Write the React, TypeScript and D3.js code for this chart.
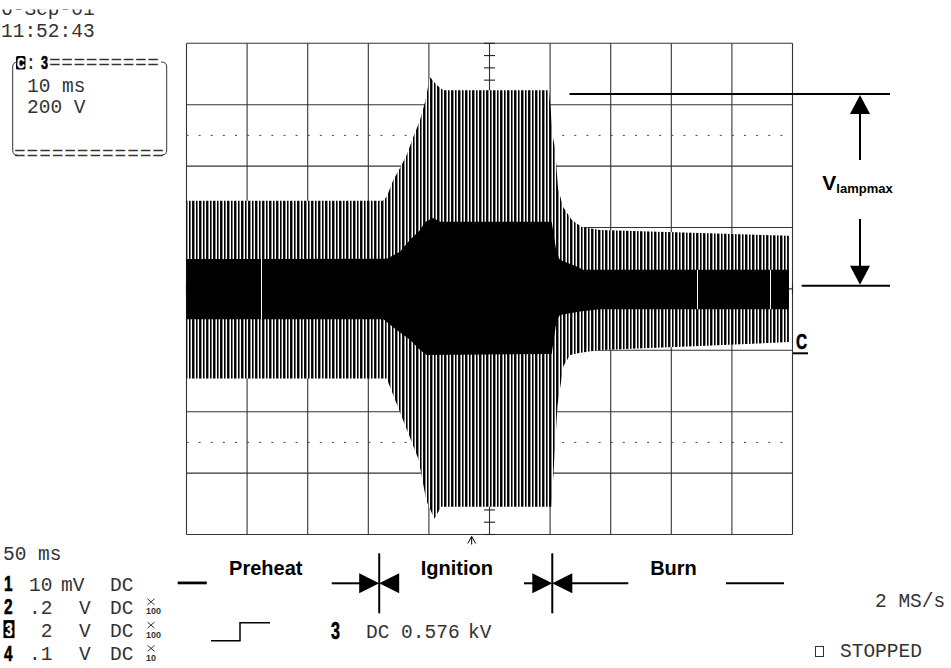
import React from 'react';
import * as d3 from 'd3';

const W = 951;
const H = 668;

// Scope settings: 50 ms/div (10 div), 200 V/div (8 div)
const timeDomain: [number, number] = [0, 500];
const timeGrid = [0, 50, 100, 150, 200, 250, 300, 350, 400, 450, 500];
const voltDomain: [number, number] = [-800, 800];
const voltGrid = [-800, -600, -400, -200, 0, 200, 400, 600, 800];
const dottedLevels = [500, -500];
const minorTimeStep = 10;
const minorVoltStep = 40;

// Envelope of the lamp voltage (time ms, volts)
const upperSpikeEnv: [number, number][] = [
  [0, 287], [162, 287], [165.2, 300], [170.6, 355], [176.2, 394], [181.7, 436],
  [187.1, 495], [192.7, 550], [196.8, 609], [200.9, 690], [206.4, 664], [211.9, 647],
  [299.1, 647], [302.4, 492], [304.1, 459], [306.5, 329], [310.7, 267], [317.8, 225],
  [326.1, 202], [341.2, 192], [423.7, 182], [497, 173],
];
const lowerSpikeEnv: [number, number][] = [
  [0, -292], [165.2, -292], [178.6, -426], [191.4, -555], [197.9, -690], [204.5, -749],
  [210, -710], [301.2, -710], [302.8, -599], [306.1, -380], [311, -251], [316.5, -215],
  [325, -208], [341.2, -199], [423.7, -186], [497, -173],
];
const bandUpperEnv: [number, number][] = [
  [0, 97], [165.2, 98], [176.2, 121], [184.4, 160], [192.7, 192], [196.8, 218],
  [203.4, 231], [209.2, 219], [301.3, 219], [305.4, 117], [308.2, 94], [322, 73],
  [327.1, 62], [497, 62],
];
const bandLowerEnv: [number, number][] = [
  [0, -99], [162.4, -99], [173.4, -134], [184.4, -166], [192.7, -199], [198.2, -215],
  [301.3, -212], [305.4, -101], [308.2, -85], [324.7, -74], [341.2, -66], [497, -66],
];
const glitchTimes = [61.2, 421, 481.4];
const triggerTime = 235.3;

// Phase annotation
const phaseBounds = [159, 301.8];
const phaseLabels = ['Preheat', 'Ignition', 'Burn'];
const phaseCenters = [65.4, 223, 401.8];
const vlampLevels = [635, 10];

// Scope readouts
const dateLines = ['6-Sep-01', '11:52:43'];
const zoomInfo = ['10 ms', '200 V'];
const timebaseLabel = '50 ms';
const chanIds = ['1', '2', '3', '4'];
const chanValues = ['10', '.2', ' 2', '.1'];
const chanUnits = ['mV', 'V', 'V', 'V'];
const chanCoupling = ['DC', 'DC', 'DC', 'DC'];
const chanProbe = ['', '100', '100', '10'];
const triggerReadout = ['3', 'DC 0.576', 'kV'];
const sampleRate = '2 MS/s';
const statusLabel = 'STOPPED';

const MONO = "'Liberation Mono', 'DejaVu Sans Mono', monospace";
const SANS = "'Liberation Sans', Arial, sans-serif";

function Narrow(props: { x: number; y: number; size: number; fill?: string; anchor?: string; children: React.ReactNode }) {
  const { x, y, size, fill = '#000', anchor = 'start', children } = props;
  return (
    <text transform={`translate(${x},${y}) scale(0.7,1)`} fontFamily={SANS} fontWeight="bold"
      fontSize={size} fill={fill} stroke={fill} strokeWidth={0.6} textAnchor={anchor}>{children}</text>
  );
}

export default function App() {
  const x = d3.scaleLinear().domain(timeDomain).range([186.5, 792.5]);
  const y = d3.scaleLinear().domain(voltDomain).range([534.5, 43.3]);
  const line = d3.line<[number, number]>().x(d => x(d[0])).y(d => y(d[1]));

  const spikePath = line([...upperSpikeEnv, ...lowerSpikeEnv.slice().reverse()]) + 'Z';
  const bandPath = line([...bandUpperEnv, ...bandLowerEnv.slice().reverse()]) + 'Z';
  const interp = (env: [number, number][], t: number) =>
    d3.scaleLinear().domain(env.map(d => d[0])).range(env.map(d => d[1]))(t);

  const x0 = x(timeDomain[0]);
  const x1 = x(timeDomain[1]);
  const y0 = y(voltDomain[1]);
  const y1 = y(voltDomain[0]);
  const xc = x((timeDomain[0] + timeDomain[1]) / 2);
  const yc = y(0);

  const minorT = d3.range(timeDomain[0], timeDomain[1] + 0.01, minorTimeStep);
  const minorV = d3.range(voltDomain[0], voltDomain[1] + 0.01, minorVoltStep);

  const annY = 583.3;
  const bx1 = x(phaseBounds[0]);
  const bx2 = x(phaseBounds[1]);
  const rowBase = [590.5, 613.8, 637.1, 660.4];

  const arrowR = (tip: number) => `M${tip - 20},${annY - 10} L${tip},${annY} L${tip - 20},${annY + 10} Z`;
  const arrowL = (tip: number) => `M${tip + 20},${annY - 10} L${tip},${annY} L${tip + 20},${annY + 10} Z`;

  const vTop = y(vlampLevels[0]);
  const vBot = y(vlampLevels[1]);
  const ax = 860;

  return (
    <svg width={W} height={H} style={{ position: 'absolute', left: 0, top: 0, background: '#fff' }}>
      <defs>
        <pattern id="spikes" patternUnits="userSpaceOnUse" x={0} y={0} width={7} height={10}>
          <rect x={0} y={0} width={7} height={10} fill="#fff" />
          <rect x={0} y={0} width={1} height={10} fill="#000" />
          <rect x={1} y={0} width={1} height={10} fill="#6e6e6e" />
          <rect x={3} y={0} width={1} height={10} fill="#111" />
          <rect x={4} y={0} width={1} height={10} fill="#000" />
          <rect x={5} y={0} width={1} height={10} fill="#8c8c8c" />
        </pattern>
        <clipPath id="topclip">
          <rect x={0} y={9.5} width={W} height={H} />
        </clipPath>
      </defs>

      {/* grid */}
      <g stroke="#333" strokeWidth={1.1} fill="none">
        {timeGrid.map(t => (
          <line key={'vt' + t} x1={x(t)} x2={x(t)} y1={y0} y2={y1} />
        ))}
        {voltGrid.map(v => (
          <line key={'hv' + v} x1={x0} x2={x1} y1={y(v)} y2={y(v)} />
        ))}
      </g>
      <g stroke="#444" strokeWidth={1} strokeDasharray="2 10.12">
        {dottedLevels.map(v => (
          <line key={'d' + v} x1={x0} x2={x1} y1={y(v)} y2={y(v)} />
        ))}
      </g>
      <g stroke="#222" strokeWidth={1.1}>
        {minorV.map(v => (
          <line key={'mv' + v} x1={xc - 5.5} x2={xc + 5.5} y1={y(v)} y2={y(v)} />
        ))}
        {minorT.map(t => (
          <line key={'mt' + t} x1={x(t)} x2={x(t)} y1={yc - 5.5} y2={yc + 5.5} />
        ))}
      </g>

      {/* waveform */}
      <path d={spikePath} fill="url(#spikes)" />
      <path d={bandPath} fill="#000" />
      <g stroke="#fff" strokeWidth={1}>
        {glitchTimes.map(t => (
          <line key={'g' + t} x1={Math.round(x(t)) + 0.5} x2={Math.round(x(t)) + 0.5}
            y1={y(interp(bandUpperEnv, t))} y2={y(interp(bandLowerEnv, t))} />
        ))}
      </g>

      {/* trigger marker */}
      <path d={`M${x(triggerTime) - 4},${y1 + 9} L${x(triggerTime)},${y1 + 2} L${x(triggerTime) + 4},${y1 + 9} M${x(triggerTime)},${y1 + 2} L${x(triggerTime)},${y1 + 10}`}
        stroke="#000" strokeWidth={1} fill="none" />

      {/* C ground marker */}
      <Narrow x={796} y={348.5} size={22}>C</Narrow>
      <line x1={793} x2={808} y1={353.3} y2={353.3} stroke="#000" strokeWidth={2} />

      {/* V lampmax annotation */}
      <g stroke="#000" strokeWidth={2}>
        <line x1={x(316)} x2={890} y1={vTop} y2={vTop} />
        <line x1={801.7} x2={890} y1={vBot} y2={vBot} />
        <line x1={ax} x2={ax} y1={vTop + 18} y2={160} />
        <line x1={ax} x2={ax} y1={219} y2={vBot - 18} />
      </g>
      <path d={`M${ax},${vTop + 1} L${ax - 10},${vTop + 20} L${ax + 10},${vTop + 20} Z`} fill="#000" />
      <path d={`M${ax},${vBot - 1} L${ax - 10},${vBot - 20} L${ax + 10},${vBot - 20} Z`} fill="#000" />
      <text x={857.5} y={190} textAnchor="middle" fontFamily={SANS} fontWeight="bold" fill="#000">
        <tspan fontSize={21}>V</tspan>
        <tspan fontSize={13} dy={3}>lampmax</tspan>
      </text>

      {/* phase annotation */}
      <g stroke="#000" strokeWidth={2}>
        <line x1={177.7} x2={206.7} y1={annY} y2={annY} />
        <line x1={331.7} x2={bx1 - 18} y1={annY} y2={annY} />
        <line x1={524} x2={bx2 - 18} y1={annY} y2={annY} />
        <line x1={bx2 + 18} x2={628.3} y1={annY} y2={annY} />
        <line x1={726} x2={784} y1={annY} y2={annY} />
        <line x1={bx1} x2={bx1} y1={553.3} y2={613.3} />
        <line x1={bx2} x2={bx2} y1={553.3} y2={613.3} />
      </g>
      <g fill="#000">
        <path d={arrowR(bx1)} />
        <path d={arrowL(bx1)} />
        <path d={arrowR(bx2)} />
        <path d={arrowL(bx2)} />
      </g>
      {phaseLabels.map((p, i) => (
        <text key={p} x={x(phaseCenters[i])} y={575} textAnchor="middle" fontFamily={SANS}
          fontWeight="bold" fontSize={20} fill="#000">{p}</text>
      ))}

      {/* top-left readouts */}
      <g fontFamily={MONO} fontSize={19.5} fill="#333">
        <text x={1} y={15} clipPath="url(#topclip)">{dateLines[0]}</text>
        <text x={1} y={37.3}>{dateLines[1]}</text>
        <text x={27} y={91.7}>{zoomInfo[0]}</text>
        <text x={27} y={113}>{zoomInfo[1]}</text>
        <text x={49} y={69} textLength={110} lengthAdjust="spacing">=========</text>
        <text x={14} y={160} textLength={150} lengthAdjust="spacing">============</text>
        <text x={25} y={69}>:</text>
      </g>
      <rect x={16} y={56} width={9.5} height={13.5} rx={1.5} fill="#000" />
      <Narrow x={20.8} y={68.3} size={15} fill="#fff" anchor="middle">C</Narrow>
      <Narrow x={41} y={69.4} size={18}>3</Narrow>
      <path d="M18,62 Q12.7,62 12.7,67 L12.7,150 Q12.7,155 17,155" stroke="#333" strokeWidth={1} fill="none" />
      <path d="M161,62 Q166.7,62 166.7,67 L166.7,150 Q166.7,155 162,155" stroke="#333" strokeWidth={1} fill="none" />

      {/* bottom-left channel readouts */}
      <text x={3} y={560} fontFamily={MONO} fontSize={19.5} fill="#333">{timebaseLabel}</text>
      {chanIds.map((c, i) => (
        <g key={'ch' + c}>
          {i === 2 ? (
            <g>
              <rect x={3.5} y={rowBase[i] - 17} width={11} height={18} fill="#000" />
              <Narrow x={9} y={rowBase[i] - 1.5} size={19} fill="#fff" anchor="middle">{c}</Narrow>
            </g>
          ) : (
            <Narrow x={4} y={rowBase[i] + 0.5} size={22}>{c}</Narrow>
          )}
          <text x={29} y={rowBase[i]} fontFamily={MONO} fontSize={19.5} fill="#333" style={{ whiteSpace: 'pre' }}>{chanValues[i]}</text>
          <text x={i === 0 ? 61 : 79} y={rowBase[i]} fontFamily={MONO} fontSize={19.5} fill="#333">{chanUnits[i]}</text>
          <text x={110} y={rowBase[i]} fontFamily={MONO} fontSize={19.5} fill="#333">{chanCoupling[i]}</text>
          {chanProbe[i] && (
            <g>
              <path d={`M147.5,${rowBase[i] - 15} L154.5,${rowBase[i] - 9} M154.5,${rowBase[i] - 15} L147.5,${rowBase[i] - 9}`}
                stroke="#333" strokeWidth={1} fill="none" />
              <text x={146} y={rowBase[i] + 0.5} fill="#333" fontFamily={SANS} fontWeight="bold" fontSize={9}>{chanProbe[i]}</text>
            </g>
          )}
        </g>
      ))}
      <line x1={177.7} x2={206.7} y1={582.3} y2={582.3} stroke="#000" strokeWidth={1.5} />
      <path d="M211,640.7 H240 V622.7 H270" stroke="#000" strokeWidth={1.5} fill="none" />

      {/* trigger readout */}
      <Narrow x={331} y={638.8} size={23}>{triggerReadout[0]}</Narrow>
      <text x={366} y={638.3} fontFamily={MONO} fontSize={19.5} fill="#333" style={{ whiteSpace: 'pre' }}>{triggerReadout[1]}</text>
      <text x={468} y={638.3} fontFamily={MONO} fontSize={19.5} fill="#333">{triggerReadout[2]}</text>

      {/* right-bottom readouts */}
      <text x={875} y={607} fontFamily={MONO} fontSize={19.5} fill="#333" style={{ whiteSpace: 'pre' }}>{sampleRate}</text>
      <rect x={815.5} y={646.5} width={8} height={10} fill="none" stroke="#333" strokeWidth={1} />
      <text x={840} y={657.3} fontFamily={MONO} fontSize={19.5} fill="#333">{statusLabel}</text>
    </svg>
  );
}
